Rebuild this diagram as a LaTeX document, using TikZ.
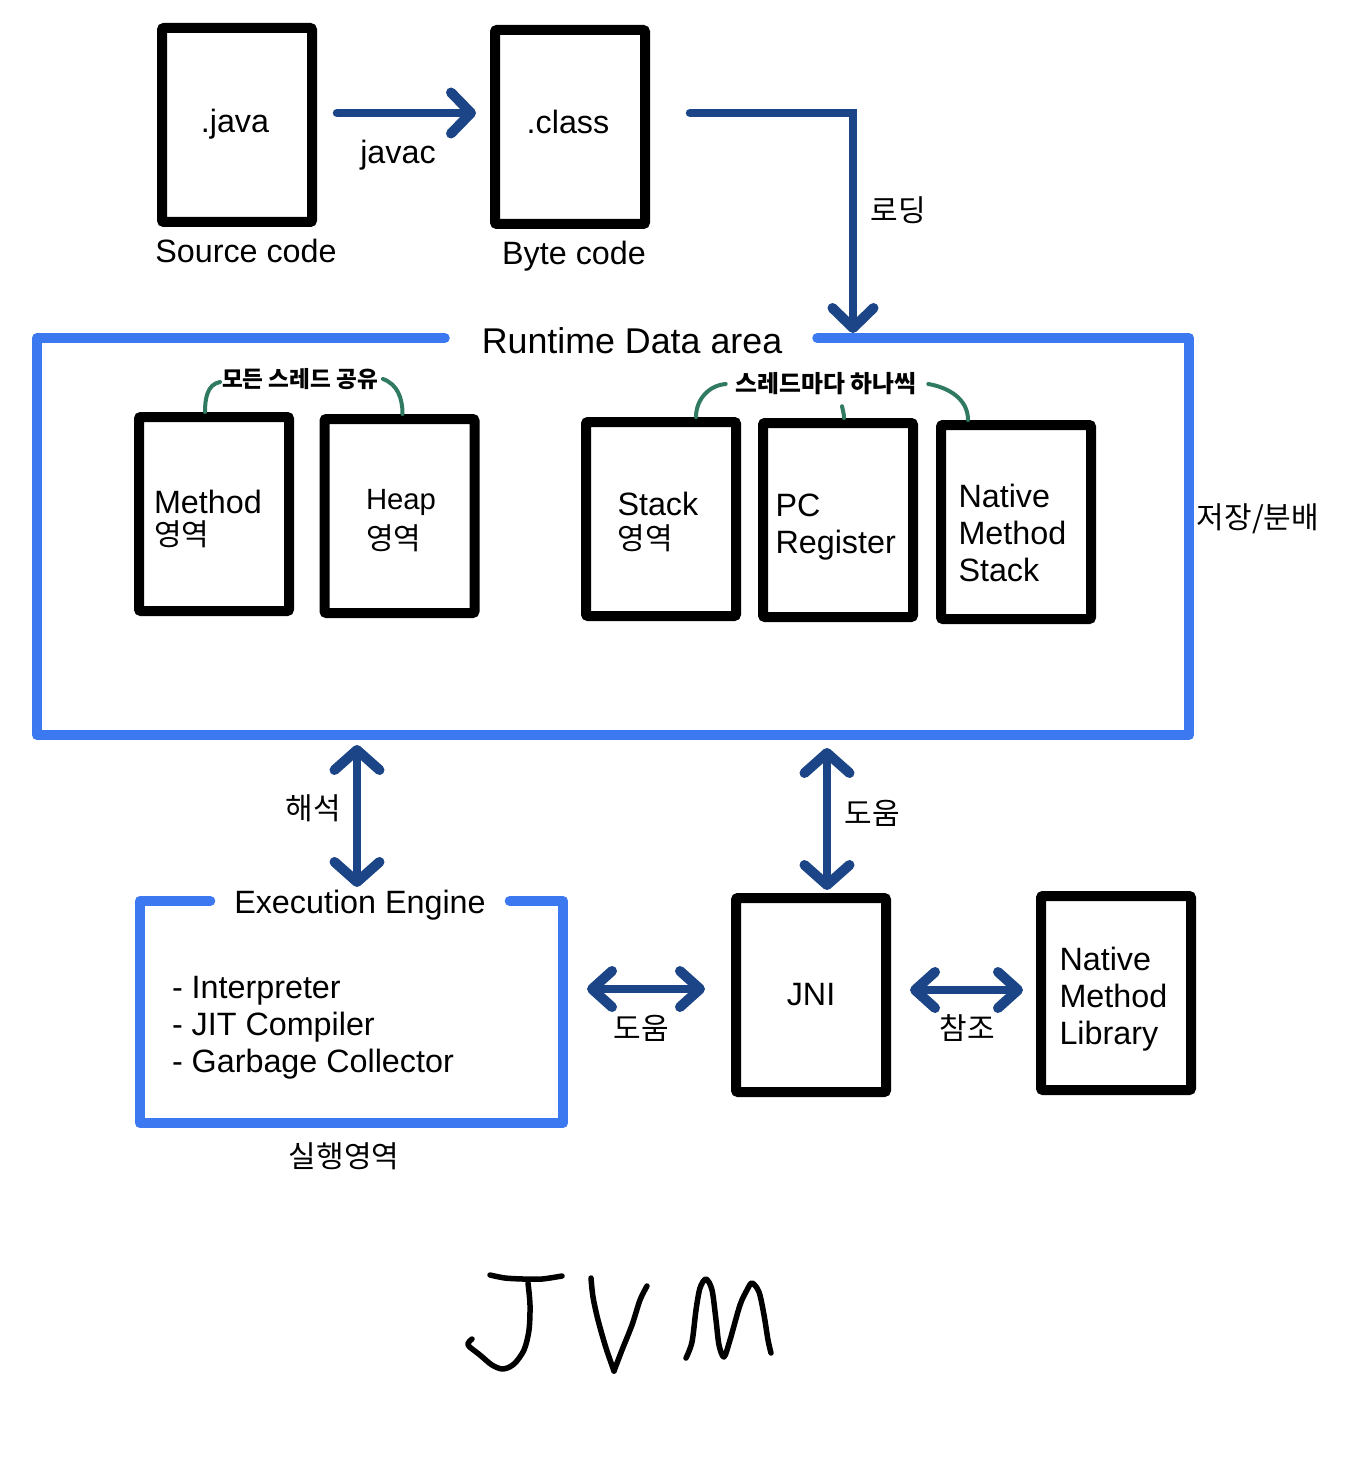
\documentclass[tikz,border=0pt]{standalone}
\usepackage{fontspec}
\setmainfont{Liberation Sans}
\newfontfamily\kofont{Noto Sans CJK KR}
\usetikzlibrary{arrows.meta}
\definecolor{areablue}{HTML}{3C78F0}
\definecolor{flownavy}{HTML}{1C4587}
\definecolor{notegreen}{HTML}{2F7A61}
\newcommand{\ko}[1]{{\kofont\fontsize{30}{37}\selectfont #1}}

\begin{document}
\begin{tikzpicture}[x=1pt,y=-1pt,
  every node/.style={inner sep=0pt,outer sep=0pt,font=\fontsize{32.3}{37}\selectfont,align=left},
  membox/.style={draw=black,line width=10pt,rounded corners=2pt,minimum width=150pt,minimum height=194pt},
  frame/.style={draw=areablue,line width=10pt,line cap=round,line join=round},
  flow/.style={draw=flownavy,line width=8.5pt,line cap=round,->,>={Straight Barb[length=20pt,width=41pt,line width=10pt,round]}},
  biflow/.style={draw=flownavy,line width=8.5pt,<->,>={Straight Barb[length=20pt,width=45pt,line width=10pt,round]}},
  flatflow/.style={draw=flownavy,line width=8.5pt,<->,>={Straight Barb[length=20pt,width=36pt,line width=10pt,round]}},
  note/.style={font=\kofont\bfseries\fontsize{#1}{24}\selectfont},
  noteline/.style={draw=notegreen,line width=4pt,line cap=round},
  handline/.style={draw=black,line width=5.5pt,line cap=round,line join=round}]
\useasboundingbox (0,0) rectangle (1371,1471);

% compile stage
\node[membox] (java) at (237,125) {};
\node[membox] (class) at (570,127) {};
\node (javaText) at (235,124) {.java};
\node (classText) at (568,122) {.class};
\node (sourceText) at (246,251) {Source code};
\node (byteText) at (574,256) {Byte code};
\node (javacText) at (398,155) {javac};
\node (loadText) at (898,210) {\ko{로딩}};

% runtime data area
\node[minimum width=1152pt,minimum height=397pt] (area) at (613,536.5) {};
\node[font=\fontsize{35.8}{40}\selectfont] (areaTitle) at (632,341) {Runtime Data area};
\draw[frame] ([xshift=-37pt]areaTitle.west |- area.north) -- (area.north west) -- (area.south west)
  -- (area.south east) -- (area.north east) -- ([xshift=35pt]areaTitle.east |- area.north);
\node[membox] (method) at (214,514) {};
\node[membox] (heap) at (399.5,516) {};
\node[membox] (stack) at (661,519) {};
\node[membox] (pc) at (838,520) {};
\node[membox] (nstack) at (1016,522) {};
\node[anchor=west] (methodText) at (154,519) {Method\\[-5pt]\ko{영역}};
\node[anchor=west] (heapText) at (366,520.5) {\fontsize{29.3}{37}\selectfont Heap\\[3pt]\ko{영역}};
\node[anchor=west] (stackText) at (617.5,522) {Stack\\[-3pt]\ko{영역}};
\node[anchor=west] (pcText) at (775.5,527) {PC\\Register};
\node[anchor=west] (nstackText) at (958.5,533) {Native\\Method\\Stack};
\node (storeText) at (1258,519) {\ko{저장/분배}};

% handwritten notes
\node[note=22.6] (shareNote) at (300,379) {모든 스레드 공유};
\node[note=23.8] (perNote) at (826,384) {스레드마다 하나씩};
\draw[noteline] ([xshift=-9pt,yshift=5pt]method.north) to[out=90,in=190] ([xshift=-2pt,yshift=-3pt]shareNote.west);
\draw[noteline] ([xshift=3pt,yshift=5pt]heap.north) to[out=90,in=-20] ([xshift=5pt]shareNote.east);
\draw[noteline] ([xshift=35pt,yshift=5pt]stack.north) to[out=90,in=185] ([xshift=-10pt]perNote.west);
\draw[noteline] ([xshift=6pt,yshift=5pt]pc.north) to[out=90,in=-80] ([xshift=16pt,yshift=-11pt]perNote.south);
\draw[noteline] ([xshift=-48pt,yshift=5pt]nstack.north) to[out=90,in=-10] ([xshift=12pt]perNote.east);

% execution part
\node[minimum width=423pt,minimum height=222pt] (engine) at (351.5,1012) {};
\node (engineTitle) at (360,905) {Execution Engine};
\draw[frame] ([xshift=-24pt]engineTitle.west |- engine.north) -- (engine.north west) -- (engine.south west)
  -- (engine.south east) -- (engine.north east) -- ([xshift=24pt]engineTitle.east |- engine.north);
\node[anchor=west] (engineList) at (172,1028) {- Interpreter\\- JIT Compiler\\- Garbage Collector};
\node (runText) at (344,1156) {\ko{실행영역}};
\node[membox] (jni) at (811,995) {};
\node[membox] (library) at (1116,993) {};
\node (jniText) at (811,995) {JNI};
\node[anchor=west] (libraryText) at (1059.5,999) {Native\\Method\\Library};
\node (readText) at (313,808) {\ko{해석}};
\node (helpText) at (872,813) {\ko{도움}};
\node (helpTextB) at (641,1028) {\ko{도움}};
\node (refText) at (967,1028) {\ko{참조}};

% connectors
\draw[flow] ([xshift=25pt,yshift=12pt]java.east) -- ([xshift=-19pt,yshift=14pt]class.west);
\draw[flow,line join=miter] ([xshift=45pt,yshift=14pt]class.east) -| ([xshift=240pt,yshift=5pt]area.north);
\draw[biflow] ([xshift=-256pt,yshift=-10pt]area.south) -- ([xshift=-3pt,yshift=3pt]engineTitle.north);
\draw[biflow] ([xshift=214pt,yshift=-13pt]area.south) -- ([xshift=16pt,yshift=8pt]jni.north);
\draw[flatflow] ([xshift=24pt,yshift=23pt]engine.east) -- ([xshift=-31pt,yshift=6pt]jni.west);
\draw[flatflow] ([xshift=24pt,yshift=5pt]jni.east) -- ([xshift=-18pt,yshift=3pt]library.west);

% handwritten title
\draw[handline] plot[smooth] coordinates {(490,1275) (505,1278) (523,1279) (542,1279) (562,1276)};
\draw[handline] plot[smooth] coordinates {(528,1283) (530,1305) (529,1330) (524,1350) (514,1364) (503,1369) (492,1365) (480,1355) (468,1345) (472,1339)};
\draw[handline] plot[smooth] coordinates {(591,1278) (593,1297) (598,1320) (606,1348) (614,1371)};
\draw[handline] plot[smooth] coordinates {(614,1371) (622,1350) (632,1325) (640,1300) (647,1286)};
\draw[handline] plot[smooth] coordinates {(686,1358) (692,1342) (696,1310) (700,1288) (706,1279) (712,1290) (716,1320) (719,1345) (724,1357) (730,1340) (740,1305) (747,1290) (752,1283) (759,1292) (764,1315) (768,1340) (771,1353)};
\end{tikzpicture}
\end{document}
